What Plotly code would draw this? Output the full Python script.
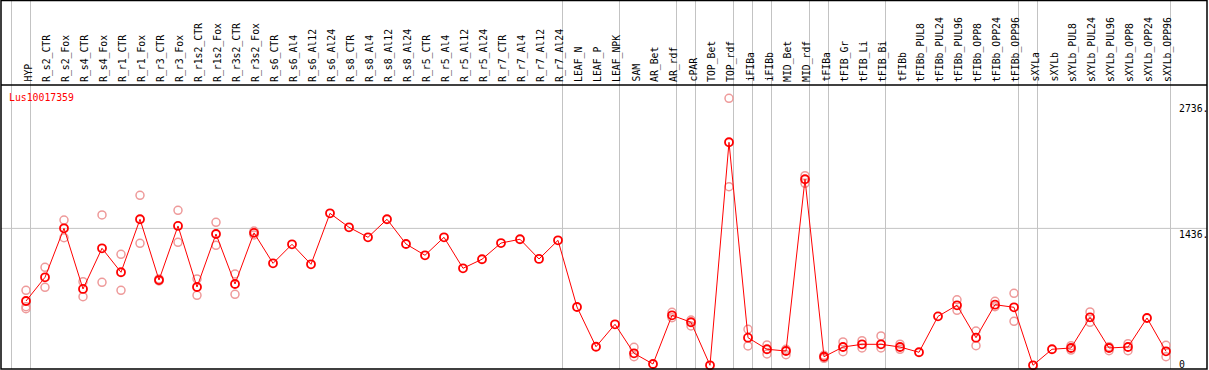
import plotly.graph_objects as go

categories = [
    "HYP", "R_s2_CTR", "R_s2_Fox", "R_s4_CTR", "R_s4_Fox", "R_r1_CTR", "R_r1_Fox",
    "R_r3_CTR", "R_r3_Fox", "R_r1s2_CTR", "R_r1s2_Fox", "R_r3s2_CTR", "R_r3s2_Fox",
    "R_s6_CTR", "R_s6_Al4", "R_s6_Al12", "R_s6_Al24", "R_s8_CTR", "R_s8_Al4",
    "R_s8_Al12", "R_s8_Al24", "R_r5_CTR", "R_r5_Al4", "R_r5_Al12", "R_r5_Al24",
    "R_r7_CTR", "R_r7_Al4", "R_r7_Al12", "R_r7_Al24", "LEAF_N", "LEAF_P", "LEAF_NPK",
    "SAM", "AR_Bet", "AR_rdf", "cPAR", "TOP_Bet", "TOP_rdf", "iFIBa", "iFIBb",
    "MID_Bet", "MID_rdf", "tFIBa", "tFIB_Gr", "tFIB_Li", "tFIB_Bi", "tFIBb",
    "tFIBb_PUL8", "tFIBb_PUL24", "tFIBb_PUL96", "tFIBb_OPP8", "tFIBb_OPP24",
    "tFIBb_OPP96", "sXYLa", "sXYLb", "sXYLb_PUL8", "sXYLb_PUL24", "sXYLb_PUL96",
    "sXYLb_OPP8", "sXYLb_OPP24", "sXYLb_OPP96",
]

mean_values = [
    688, 932, 1437, 812, 1231, 984, 1530, 904, 1461, 832, 1378, 863, 1390,
    1076, 1272, 1066, 1591, 1447, 1344, 1530, 1275, 1159, 1344, 1025, 1118,
    1285, 1324, 1121, 1313, 626, 217, 448,
    149, 39, 541, 469, 26, 2323, 310, 191, 173, 1942, 114, 214, 242, 242, 214,
    160, 530, 644, 310, 650, 623, 26, 191, 204, 520, 204, 214, 513, 170,
]

replicate_values = [
    [798, 629, 609], [1035, 829], [1522, 1340], [887, 732], [1574, 881],
    [1169, 798], [1777, 1282], [915, 894], [1622, 1293], [915, 747],
    [1499, 1262], [966, 757], [1409, 1368],
    [], [], [], [], [], [], [], [], [], [], [], [], [], [], [], [],
    [], [], [],
    [211, 114], [], [572, 516], [492, 431], [], [2776, 1865], [397, 225],
    [235, 142], [191, 135], [1979, 1900], [129, 98], [266, 166], [279, 204],
    [328, 204], [243, 190],
    [], [], [701, 592], [379, 228], [685, 629], [767, 479], [], [],
    [228, 183], [575, 469], [217, 176], [248, 176], [], [232, 114],
]

group_breaks_after = [-1, 0, 28, 31, 34, 35, 37, 38, 39, 41, 42, 45, 52, 53, 60]
gene_id = "Lus10017359"
grid_value = 1436
y_tick_values = [2736, 1436, 0]
y_tick_labels = ["2736.", "1436.", "0"]

W, H = 1209, 370
X0_PX, X_STEP = 26.0, 19.0
Y0_PX, Y_SCALE = 367.8, 10.3
x_range = [-X0_PX / X_STEP, (W - X0_PX) / X_STEP]
y_range = [(Y0_PX - H) * Y_SCALE, Y0_PX * Y_SCALE]


def px_x(p):
    return p / W


def px_y(p):
    return 1 - p / H


FONT = "DejaVu Sans Mono"
GRAY = "#c3c3c3"
RED = "#ff0000"
PINK = "#ee9a9a"

xs = list(range(len(categories)))
rep_x, rep_y = [], []
for i, reps in enumerate(replicate_values):
    for v in reps:
        rep_x.append(i)
        rep_y.append(v)

fig = go.Figure()
fig.add_trace(go.Scatter(
    x=rep_x, y=rep_y, mode="markers",
    marker=dict(symbol="circle-open", size=8, color=PINK, line=dict(width=1.5, color=PINK)),
    hoverinfo="skip", showlegend=False,
))
fig.add_trace(go.Scatter(
    x=xs, y=mean_values, mode="lines+markers",
    line=dict(color=RED, width=1),
    marker=dict(symbol="circle-open", size=8, color=RED, line=dict(width=1.8, color=RED)),
    text=categories, showlegend=False,
))

shapes = []
# vertical group separators
for b in group_breaks_after:
    xb = b + 4.5 / X_STEP
    shapes.append(dict(type="line", xref="x", yref="paper", x0=xb, x1=xb,
                       y0=px_y(369), y1=px_y(0), line=dict(color=GRAY, width=1), layer="below"))
# horizontal reference line
shapes.append(dict(type="line", xref="paper", yref="y", x0=px_x(1), x1=px_x(1207),
                   y0=grid_value, y1=grid_value, line=dict(color=GRAY, width=1), layer="below"))
# header separator
shapes.append(dict(type="line", xref="paper", yref="paper", x0=px_x(1), x1=px_x(1207),
                   y0=px_y(85), y1=px_y(85), line=dict(color="black", width=1.5)))
# outer border
shapes.append(dict(type="rect", xref="paper", yref="paper", x0=px_x(1), x1=px_x(1207),
                   y0=px_y(369), y1=px_y(0.5), line=dict(color="black", width=1.5)))

annotations = []
for i, name in enumerate(categories):
    annotations.append(dict(
        x=i + 0.08, xref="x", y=px_y(83), yref="paper", text=name, showarrow=False,
        textangle=-90, xanchor="center", yanchor="bottom",
        font=dict(family=FONT, size=9.8, color="black"), borderpad=0,
    ))
annotations.append(dict(
    x=px_x(8), xref="paper", y=px_y(91), yref="paper", text=gene_id, showarrow=False,
    xanchor="left", yanchor="top", font=dict(family=FONT, size=9.8, color=RED), borderpad=0,
))
for v, t in zip(y_tick_values, y_tick_labels):
    yy = v if v > 0 else 100
    annotations.append(dict(
        x=px_x(1178), xref="paper", y=yy, yref="y", text=t, showarrow=False,
        xanchor="left", yanchor="top", font=dict(family=FONT, size=9.8, color="black"),
        borderpad=0,
    ))

fig.update_layout(
    width=W, height=H, autosize=False,
    margin=dict(l=0, r=0, t=0, b=0, pad=0),
    paper_bgcolor="white", plot_bgcolor="white",
    xaxis=dict(range=x_range, visible=False, fixedrange=True),
    yaxis=dict(range=y_range, visible=False, fixedrange=True),
    shapes=shapes, annotations=annotations, showlegend=False,
)

fig.write_html("out.html", include_plotlyjs=True, config={"displayModeBar": False},
               post_script="document.body.style.margin='0';document.body.style.overflow='hidden';")
